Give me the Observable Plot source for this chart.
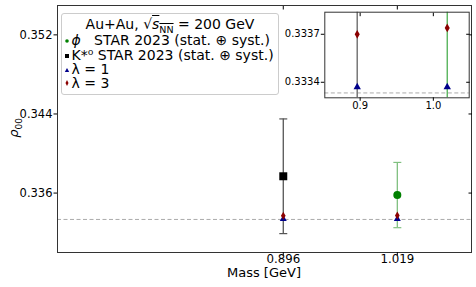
<!DOCTYPE html>
<html><head><meta charset="utf-8">
<script src="https://cdn.jsdelivr.net/npm/d3@7"></script>
<script src="https://cdn.jsdelivr.net/npm/@observablehq/plot@0.6"></script>
<style>
body{margin:0;background:#fff;font-family:"DejaVu Sans",sans-serif;}
#wrap{position:relative;width:476px;height:287px;overflow:hidden;}
#wrap svg{position:absolute;background:transparent;}
.lab{position:absolute;font-size:13px;color:#000;white-space:nowrap;line-height:12px;}
#legend{position:absolute;left:61px;top:13px;width:216px;height:80px;border:1px solid #ccc;border-radius:3px;background:rgba(255,255,255,0.85);font-size:14px;}
#legend .row{position:absolute;left:0;white-space:nowrap;line-height:13px;height:13px;}
#legend .row svg{position:absolute;left:0.5px;top:2.5px;}
#legend .row .txt{position:absolute;left:9.5px;top:0;white-space:nowrap;}
</style></head>
<body><div id="wrap"></div>
<script>
// ---- data ----
const mesons = ["K*0", "phi"];
const mass = [0.896, 1.019];
const rho = [0.3377, 0.3358];
const err = [0.0058, 0.0033];
const lambda1 = [0.33337, 0.33337];
const lambda3 = [0.33370, 0.33374];
const refLine = [1 / 3];
const mainYTicks = [0.336, 0.344, 0.352];
const mainXTicks = [0.896, 1.019];
const insetYTicks = [0.3334, 0.3337];
const insetXTicks = [0.9, 1.0];

const rows = mesons.map((m, i) => ({meson: m, mass: mass[i], rho: rho[i], err: err[i], l1: lambda1[i], l3: lambda3[i]}));
const kst = rows.filter(d => d.meson === "K*0");
const phi = rows.filter(d => d.meson === "phi");
const barColor = {"K*0": "#555", "phi": "#80c080"};
const cap = 0.0043;

const wrap = document.getElementById("wrap");

function errMarks(data, color) {
  return [
    Plot.ruleX(data, {x: "mass", y1: d => d.rho - d.err, y2: d => d.rho + d.err, stroke: color, strokeWidth: 1.3}),
    Plot.link(data, {x1: d => d.mass - cap, x2: d => d.mass + cap, y1: d => d.rho + d.err, y2: d => d.rho + d.err, stroke: color, strokeWidth: 1.2}),
    Plot.link(data, {x1: d => d.mass - cap, x2: d => d.mass + cap, y1: d => d.rho - d.err, y2: d => d.rho - d.err, stroke: color, strokeWidth: 1.2})
  ];
}

const main = Plot.plot({
  width: 476, height: 287,
  marginLeft: 57, marginRight: 5, marginTop: 5, marginBottom: 35,
  style: {fontFamily: "DejaVu Sans", fontSize: "11.5px", background: "transparent", overflow: "visible"},
  x: {domain: [0.6525, 1.099]},
  y: {domain: [0.32999, 0.35497]},
  marks: [
    Plot.ruleY(refLine, {y: d => d, stroke: "#aaa", strokeDasharray: "4,2.5", strokeWidth: 1}),
    ...errMarks(kst, barColor["K*0"]),
    ...errMarks(phi, barColor["phi"]),
    Plot.dot(kst, {x: "mass", y: "rho", symbol: "square", r: 4.5, fill: "#000"}),
    Plot.dot(phi, {x: "mass", y: "rho", symbol: "circle", r: 4, fill: "#008000"}),
    Plot.dot(rows, {x: "mass", y: "l1", symbol: "triangle", r: 2.6, fill: "#00008b"}),
    Plot.dot(rows, {x: "mass", y: "l3", symbol: "diamond", r: 2.45, fill: "#8b0000"}),
    Plot.frame({stroke: "#333", strokeWidth: 1}),
    Plot.axisY({anchor: "left", ticks: mainYTicks, tickFormat: d3.format(".3f"), tickSize: 3.5, tickPadding: 1.5, label: null, fontSize: "11.5px"}),
    Plot.axisY({anchor: "right", ticks: mainYTicks, tickFormat: () => "", tickSize: 3.5, dx: -3.5, label: null}),
    Plot.axisX({anchor: "bottom", ticks: mainXTicks, tickFormat: d3.format(".3f"), tickSize: 3.5, tickPadding: -1.5, label: null, fontSize: "11.8px"}),
    Plot.axisX({anchor: "top", ticks: mainXTicks, tickFormat: () => "", tickSize: 3.5, dy: 3.5, label: null})
  ]
});
main.style.left = "0px"; main.style.top = "0px";
wrap.appendChild(main);

const inset = Plot.plot({
  width: 192, height: 115,
  marginLeft: 40.3, marginRight: 7.3, marginTop: 11.7, marginBottom: 17.7,
  style: {fontFamily: "DejaVu Sans", fontSize: "10px", background: "transparent", overflow: "visible"},
  x: {domain: [0.8517, 1.049]},
  y: {domain: [0.333303, 0.333838]},
  marks: [
    Plot.frame({fill: "#fff", stroke: null}),
    Plot.ruleY(refLine, {y: d => d, stroke: "#aaa", strokeDasharray: "4,2.5", strokeWidth: 1}),
    Plot.ruleX(kst, {x: "mass", y1: d => d.rho - d.err, y2: d => d.rho + d.err, stroke: "#777", strokeWidth: 1.5, clip: true}),
    Plot.ruleX(phi, {x: "mass", y1: d => d.rho - d.err, y2: d => d.rho + d.err, stroke: "#4caf50", strokeWidth: 1.3, clip: true}),
    Plot.dot(rows, {x: "mass", y: "l1", symbol: "triangle", r: 2.75, fill: "#00008b", clip: true}),
    Plot.dot(rows, {x: "mass", y: "l3", symbol: "diamond", r: 2.65, fill: "#8b0000", clip: true}),
    Plot.frame({stroke: "#333", strokeWidth: 1}),
    Plot.axisY({anchor: "left", ticks: insetYTicks, tickFormat: d3.format(".4f"), tickSize: 3.5, tickPadding: 1.5, label: null, fontSize: "10px"}),
    Plot.axisY({anchor: "right", ticks: insetYTicks, tickFormat: () => "", tickSize: 3.5, dx: -3.5, label: null}),
    Plot.axisX({anchor: "bottom", ticks: insetXTicks, tickFormat: d3.format(".1f"), tickSize: 3.5, tickPadding: 0.5, label: null, fontSize: "10px"}),
    Plot.axisX({anchor: "top", ticks: insetXTicks, tickFormat: () => "", tickSize: 3.5, dy: 3.5, label: null})
  ]
});
inset.style.left = "284px"; inset.style.top = "0px";
wrap.appendChild(inset);

// axis labels
const xl = document.createElement("div");
xl.className = "lab"; xl.textContent = "Mass [GeV]";
xl.style.left = "264px"; xl.style.top = "267px"; xl.style.transform = "translateX(-50%)";
wrap.appendChild(xl);
const yl = document.createElement("div");
yl.className = "lab"; yl.innerHTML = "<i>ρ</i><sub style='font-size:9px;line-height:0'>00</sub>";
yl.style.left = "14px"; yl.style.top = "128px"; yl.style.transform = "translate(-50%,-50%) rotate(-90deg)";
wrap.appendChild(yl);

// legend
const legendTitle = "Au+Au, √<span style='text-decoration:overline'><i>s</i><sub style='font-size:9.5px;line-height:0'>NN</sub></span> = 200 GeV";
const legendLabels = [
  "<i>ϕ</i>&nbsp;&nbsp; STAR 2023 (stat. ⊕ syst.)",
  "K*⁰ STAR 2023 (stat. ⊕ syst.)",
  "λ = 1",
  "λ = 3"
];
const legendMarkers = [
  "<circle cx='4' cy='4' r='1.8' fill='#008000'/>",
  "<rect x='2' y='2' width='4' height='4' fill='#000'/>",
  "<path d='M4,2 L6.2,6 L1.8,6 Z' fill='#00008b'/>",
  "<path d='M4,1 L5.5,4 L4,7 L2.5,4 Z' fill='#8b0000'/>"
];
const lg = document.createElement("div");
lg.id = "legend";
let html = `<div class="row" style="top:3.5px;left:0;width:216px;text-align:center;">${legendTitle}</div>`;
const tops = [20.2, 35.2, 49.2, 62.5];
legendLabels.forEach((t, i) => {
  html += `<div class="row" style="top:${tops[i]}px"><svg width="8" height="8">${legendMarkers[i]}</svg><span class="txt">${t}</span></div>`;
});
lg.innerHTML = html;
wrap.appendChild(lg);
</script>
</body></html>
